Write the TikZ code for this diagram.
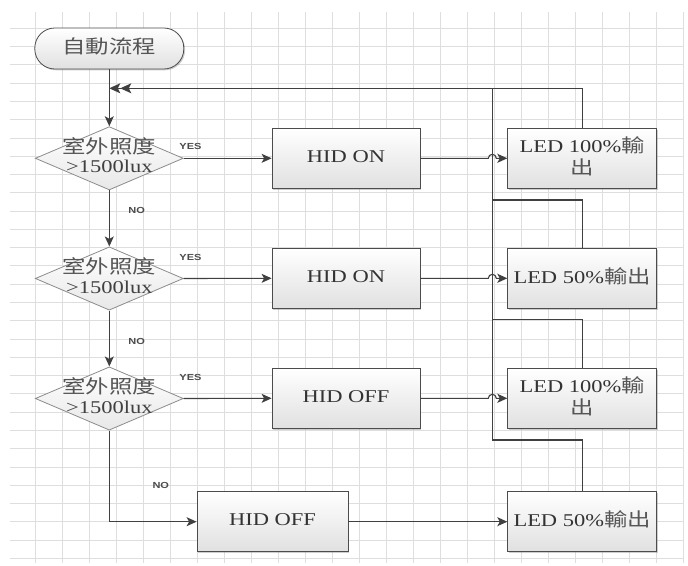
\documentclass[tikz,border=0pt]{standalone}
\usepackage{fontspec}
\setmainfont{Liberation Serif}
\newfontfamily\cjk[Scale=1.04,Color=555555]{Noto Sans CJK TC}
\newfontfamily\labfont{Liberation Sans}
\usetikzlibrary{arrows.meta,shapes.geometric,shadows,calc}
\newcommand{\sqz}[1]{\scalebox{1}[0.8]{\fontsize{22.5}{24}\selectfont\begin{tabular}{@{}c@{}}#1\end{tabular}}}
\newcommand{\ynl}[1]{\scalebox{1}[0.8]{\labfont\bfseries\fontsize{11}{12}\selectfont #1}}
\begin{document}
\begin{tikzpicture}[x=1pt,y=-1pt,
  gridline/.style={draw=black!13,line width=0.9pt},
  conn/.style={draw=black!75,line width=1.1pt},
  arr/.style={conn,-{Stealth[length=10pt,width=9pt,inset=2.5pt]}},
  dblarr/.style={conn,-{Stealth[length=11pt,width=10pt,inset=2.5pt]Stealth[length=11pt,width=10pt,inset=2.5pt]}},
  shadowed/.style={drop shadow={shadow xshift=1.3pt,shadow yshift=-1.3pt,opacity=0.35,fill=black!55}},
  term/.style={rectangle,rounded corners=20pt,draw=black!70,line width=0.8pt,top color=white,bottom color=black!12,minimum width=149pt,minimum height=41pt,inner sep=0pt,text=black!80,shadowed},
  dec/.style={diamond,draw=black!45,line width=0.8pt,top color=white,bottom color=black!9,minimum width=148pt,minimum height=63.3pt,inner sep=0pt},
  box/.style={rectangle,draw=black!70,line width=0.8pt,top color=white,bottom color=black!12,minimum width=148pt,minimum height=60pt,inner sep=0pt,text=black!80,shadowed},
  yn/.style={inner sep=0pt,text=black!70},
  every label/.style={text=black!75,inner sep=0pt}]
\useasboundingbox (0,0) rectangle (688,565);
\fill[white] (0,0) rectangle (688,565);
% grid
\foreach \i in {0,...,24} \draw[gridline] ({35+27.01*\i},12) -- ({35+27.01*\i},563);
\foreach \j in {0,...,29} \draw[gridline] (10,{28.3+18.28*\j}) -- (683,{28.3+18.28*\j});
% nodes
\node[term] (start) at (109.3,48.5) {\sqz{\cjk 自動流程}};
\node[dec,label={center:\sqz{{\cjk 室外照度}\\>1500lux}}] (d1) at (109.3,158.3) {};
\node[dec,label={center:\sqz{{\cjk 室外照度}\\>1500lux}}] (d2) at (109.3,278.5) {};
\node[dec,label={center:\sqz{{\cjk 室外照度}\\>1500lux}}] (d3) at (109.3,398.5) {};
\node[box] (h1) at (346,158.3) {\sqz{HID ON}};
\node[box] (h2) at (346,278.3) {\sqz{HID ON}};
\node[box] (h3) at (346,398.3) {\sqz{HID OFF}};
\node[box,minimum width=151pt] (h4) at (272.5,521.7) {\sqz{HID OFF}};
\node[box,minimum width=149pt] (l1) at (582.2,158.3) {\sqz{LED 100\%{\cjk 輸}\\{\cjk 出}}};
\node[box,minimum width=149pt] (l2) at (582.2,278.3) {\sqz{LED 50\%{\cjk 輸出}}};
\node[box,minimum width=149pt] (l3) at (582.2,398.3) {\sqz{LED 100\%{\cjk 輸}\\{\cjk 出}}};
\node[box,minimum width=149pt] (l4) at (582.2,521.7) {\sqz{LED 50\%{\cjk 輸出}}};
% labels
\node[yn] (y1) at (190.5,146.5) {\ynl{YES}};
\node[yn] (y2) at (190.5,257) {\ynl{YES}};
\node[yn] (y3) at (190.5,377) {\ynl{YES}};
\node[yn] (n1) at (136.7,210.3) {\ynl{NO}};
\node[yn] (n2) at (136.7,341) {\ynl{NO}};
\node[yn] (n3) at (160.8,485.5) {\ynl{NO}};
% coordinates
\coordinate (j0) at (109.3,88.3);
\coordinate (b0) at (492.3,88.3);
\coordinate (b2) at (492.3,200);
\coordinate (b3) at (492.3,319.3);
\coordinate (b4) at (492.3,440);
% connectors
\draw[arr] (start.south) -- (d1.north);
\draw[dblarr] (l1.north) |- (j0);
\draw[conn] (b4) -- (b0);
\draw[conn] (l2.north) |- (b2);
\draw[conn] (l3.north) |- (b3);
\draw[conn] (l4.north) |- (b4);
\draw[arr] (d1.south) -- (d2.north);
\draw[arr] (d2.south) -- (d3.north);
\draw[arr] (d3.south) |- (h4.west);
\draw[arr] (d1.east) -- (h1.west);
\draw[arr] (d2.east) -- (h2.west);
\draw[arr] (d3.east) -- (h3.west);
\draw[arr] (h1.east) -- ($(b0 |- h1.east)+(-4pt,0)$) arc[start angle=180,end angle=0,radius=4pt] -- (l1.west);
\draw[arr] (h2.east) -- ($(b0 |- h2.east)+(-4pt,0)$) arc[start angle=180,end angle=0,radius=4pt] -- (l2.west);
\draw[arr] (h3.east) -- ($(b0 |- h3.east)+(-4pt,0)$) arc[start angle=180,end angle=0,radius=4pt] -- (l3.west);
\draw[arr] (h4.east) -- (l4.west);
\end{tikzpicture}
\end{document}
